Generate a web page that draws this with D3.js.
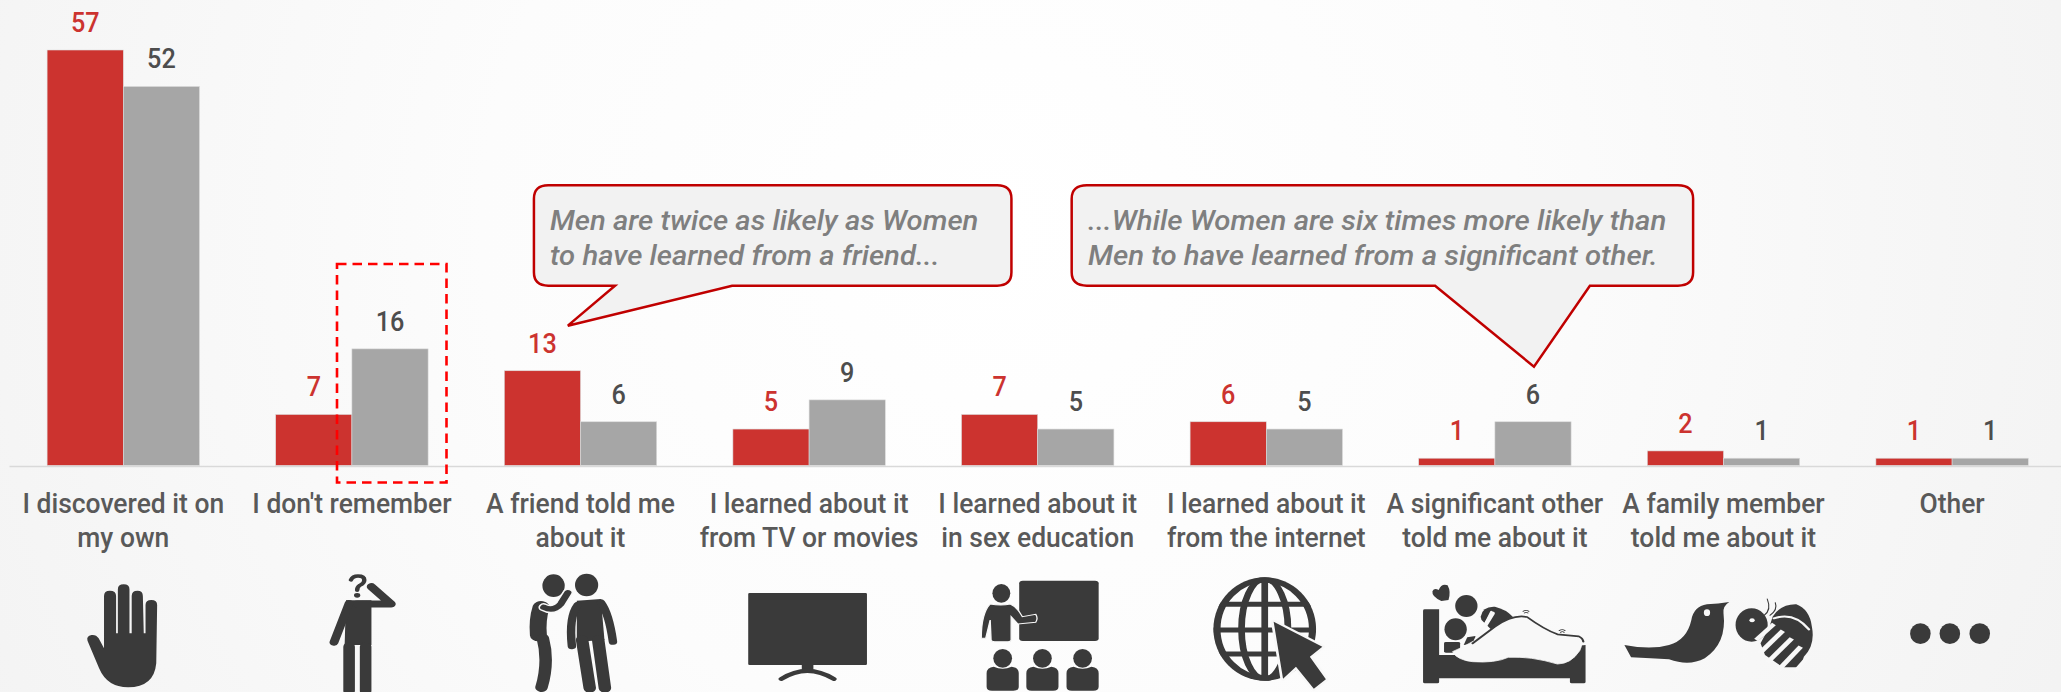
<!DOCTYPE html>
<html><head><meta charset="utf-8">
<style>html,body{margin:0;padding:0;background:#fff;overflow:hidden}svg{display:block}</style>
<script src="https://cdn.jsdelivr.net/npm/d3@7/dist/d3.min.js"></script>
</head><body><svg id="c" width="2061" height="692"></svg>
<script>
const categories = ["I discovered it on|my own","I don't remember","A friend told me|about it","I learned about it|from TV or movies","I learned about it|in sex education","I learned about it|from the internet","A significant other|told me about it","A family member|told me about it","Other"];
const men   = [57,7,13,5,7,6,1,2,1];
const women = [52,16,6,9,5,5,6,1,1];
const calloutA = ["Men are twice as likely as Women","to have learned from a friend..."];
const calloutB = ["...While Women are six times more likely than","Men to have learned from a significant other."];

const FONT = "Roboto, sans-serif", DARK = "#3a3a3a", BG = "#f8f8f8";
const svg = d3.select("#c");
const defs = svg.append("defs");
const grad = defs.append("radialGradient").attr("id","bg").attr("gradientUnits","userSpaceOnUse")
  .attr("cx",1000).attr("cy",230).attr("r",1150);
[[0,"#ffffff"],[0.45,"#fcfcfc"],[1,"#f3f3f3"]].forEach(s=>grad.append("stop").attr("offset",s[0]).attr("stop-color",s[1]));
svg.append("rect").attr("width",2061).attr("height",692).attr("fill","url(#bg)");

const x = d3.scaleBand().domain(categories).range([9,2066.4]).paddingInner(1/3).paddingOuter(1/6);
const y = d3.scaleLinear().domain([0,57]).range([465.5,50]);
const series = [{key:"Men",values:men,fill:"#cc332f",text:"#cc332f"},{key:"Women",values:women,fill:"#a6a6a6",text:"#4d4d4d"}];
const x1 = d3.scaleBand().domain(series.map(s=>s.key)).range([0,x.bandwidth()]);

// bars
const gBars = svg.append("g");
series.forEach(s=>{
  gBars.selectAll(null).data(categories).join("rect")
    .attr("x",d=>x(d)+x1(s.key)).attr("width",x1.bandwidth())
    .attr("y",(d,i)=>y(s.values[i])).attr("height",(d,i)=>y(0)-y(s.values[i]))
    .attr("fill",s.fill).attr("stroke","#dcdcdc").attr("stroke-width",0.6);
});
// axis
const ax = svg.append("g").attr("transform",`translate(0,${y(0)+0.5})`).call(d3.axisBottom(x).tickSize(0).tickFormat(""));
ax.select(".domain").attr("stroke","#d9d9d9").attr("stroke-width",1.6);

function narrowText(sel,px,py,str,size,fill,anchor,sx,style,weight){
  return sel.append("text").attr("transform",`translate(${px},${py}) scale(${sx},1)`)
    .attr("text-anchor",anchor).attr("font-family",FONT).attr("font-size",size)
    .attr("fill",fill).attr("font-style",style||"normal").attr("font-weight",weight||400).text(str);
}
// value labels
const gVals = svg.append("g");
series.forEach(s=>{
  categories.forEach((c,i)=>{
    narrowText(gVals,x(c)+x1(s.key)+x1.bandwidth()/2,y(s.values[i])-18,String(s.values[i]),28,s.text,"middle",0.9,"normal",500);
  });
});
// category labels
const gCats = svg.append("g");
categories.forEach(c=>{
  c.split("|").forEach((line,j)=>{
    narrowText(gCats,x(c)+x.bandwidth()/2,513+j*34.2,line,27,"#595959","middle",0.98,"normal",500);
  });
});
// highlight
svg.append("rect").attr("x",337).attr("y",264).attr("width",109.5).attr("height",218.5)
  .attr("fill","none").attr("stroke","#ff0000").attr("stroke-width",2.6).attr("stroke-dasharray","9.5,6");

// callouts: paths in crop coordinates (crop is stretched sx horizontally, 3x vertically)
function callout(ox,oy,sx,d){
  svg.append("g").attr("transform",`translate(${ox},${oy}) scale(${1/sx},${1/3})`).append("path").attr("d",d)
   .attr("fill","#f2f2f2").attr("stroke","#c00000").attr("stroke-width",2.5).attr("vector-effect","non-scaling-stroke").attr("stroke-linejoin","miter");
}
callout(500,170,2.8,"M135 46 H1392 Q1432 46 1432 86 V307 Q1432 347 1392 347 H650 L190 467 L322 347 H135 Q95 347 95 307 V86 Q95 46 135 46 Z");
callout(1050,170,2.306,"M85 46 H1448 Q1483 46 1483 86 V307 Q1483 347 1448 347 H1245 L1116 590 L888 347 H85 Q50 347 50 307 V86 Q50 46 85 46 Z");
const gNote = svg.append("g");
calloutA.forEach((t,i)=>narrowText(gNote,550,230+i*35,t,28,"#7f7f7f","start",1.045,"italic",500));
calloutB.forEach((t,i)=>narrowText(gNote,1088,230+i*35,t,28,"#7f7f7f","start",1.05,"italic",500));

// icons, in crop coordinates (2.24x horizontally, 3x vertically)
function icon(ox){ return svg.append("g").attr("transform",`translate(${ox},470) scale(${1/2.24},${1/3})`).attr("fill",DARK); }
function stroke(g,d,w,col){ return g.append("path").attr("d",d).attr("fill","none").attr("stroke",col||DARK).attr("stroke-width",w).attr("stroke-linecap","round").attr("stroke-linejoin","round"); }
function ell(g,cx,cy,rx,ry,col){ return g.append("ellipse").attr("cx",cx).attr("cy",cy).attr("rx",rx).attr("ry",ry).attr("fill",col||DARK); }

// hand
let g = icon(0);
g.append("path").attr("d","M196 512 Q193 498 205 495 Q215 493 221 505 L233 535 L233 378 Q233 362 246 362 Q260 362 260 378 L260 490 L264 490 L264 358 Q264 343 277 343 Q290 343 290 358 L290 490 L295 490 L295 378 Q295 362 308 362 Q320 362 320 378 L322 490 L326 490 L326 405 Q326 390 339 390 Q352 390 352 405 L350 580 Q345 652 287 652 Q240 652 222 595 Z");
// thinking person
g = icon(0);
stroke(g,"M786 330 Q790 318 802 318 Q816 318 816 330 Q816 340 806 346 Q800 351 800 361",10);
ell(g,800,376,7,7);
g.append("path").attr("d","M775 391 L832 391 L832 525 L772 525 Z");
stroke(g,"M832 350 L876 402 L800 402",21);
stroke(g,"M782 400 L748 517",20);
stroke(g,"M782 530 L782 662",26);
stroke(g,"M819 530 L819 662",26);
// friends
g = icon(0);
ell(g,1240,347,25,34); ell(g,1314,345,26,34);
stroke(g,"M1212 412 Q1203 450 1206 495",38);
stroke(g,"M1216 505 Q1230 575 1213 652",28);
stroke(g,"M1218 412 Q1240 428 1258 402 L1272 368",24,BG);
stroke(g,"M1218 412 Q1240 426 1256 402 L1272 368",16);
g.append("path").attr("d","M1292 392 L1346 387 L1354 510 L1292 515 Z");
stroke(g,"M1294 405 Q1274 440 1281 528",19);
stroke(g,"M1346 398 Q1364 430 1373 515",19);
stroke(g,"M1304 510 L1321 654",28);
stroke(g,"M1340 510 L1355 654",28);
// TV
g = icon(700);
g.append("rect").attr("x",108).attr("y",369).attr("width",266).attr("height",216).attr("rx",3);
g.append("rect").attr("x",228).attr("y",585).attr("width",26).attr("height",16);
stroke(g,"M182 627 Q240 578 300 627",12);
// teacher
g = icon(700);
g.append("rect").attr("x",715).attr("y",332).attr("width",178).attr("height",181).attr("rx",8);
ell(g,675,370,20,28);
g.append("path").attr("d","M650 402 Q675 408 695 402 Q710 410 722 440 L752 433 Q758 445 752 457 L712 462 L697 440 L697 510 Q697 515 690 515 L660 515 Q652 515 652 510 L650 450 L640 505 L630 505 Q630 430 650 402 Z").attr("stroke",BG).attr("stroke-width",3);
[678,767,857].forEach(cx=>{
  ell(g,cx,565,21,28);
  g.append("path").attr("d",`M${cx-36} 610 Q${cx-36} 592 ${cx-20} 590 Q${cx} 602 ${cx+20} 590 Q${cx+36} 592 ${cx+36} 610 L${cx+36} 650 Q${cx+36} 662 ${cx+24} 662 L${cx-24} 662 Q${cx-36} 662 ${cx-36} 650 Z`);
});
// globe + cursor
g = icon(700);
defs.append("clipPath").attr("id","gl").append("ellipse").attr("cx",1265).attr("cy",477).attr("rx",115).attr("ry",155);
const glob = g.append("g").attr("fill","none").attr("stroke",DARK).attr("clip-path","url(#gl)");
glob.append("ellipse").attr("cx",1265).attr("cy",477).attr("rx",108).attr("ry",148).attr("stroke-width",18);
glob.append("ellipse").attr("cx",1265).attr("cy",477).attr("rx",52).attr("ry",150).attr("stroke-width",15);
[["M1265 325 V630",15],["M1150 403 H1380",15],["M1150 480 H1380",15],["M1150 552 H1380",15]].forEach(l=>glob.append("path").attr("d",l[0]).attr("stroke-width",l[1]));
g.append("path").attr("d","M1285 455 L1394 530 L1366 560 L1402 628 L1375 656 L1335 590 L1306 626 Z").attr("stroke",BG).attr("stroke-width",12).attr("paint-order","stroke").attr("stroke-linejoin","round");
// bed
g = icon(1361);
g.append("path").attr("d","M139 422 Q139 418 143 418 L175 418 L175 555 L300 555 L503 525 L503 636 Q503 640 499 640 L472 640 Q468 640 468 636 L468 625 L175 625 L175 636 Q175 640 171 640 L143 640 Q139 640 139 636 Z");
ell(g,212,478,25,33); ell(g,236,408,25,33);
g.append("rect").attr("x",186).attr("y",516).attr("width",36).attr("height",32).attr("rx",4);
g.append("path").attr("d","M230 525 L238 502 L256 498 L260 520 Z");
g.append("path").attr("d","M180 393 Q158 380 160 364 Q164 352 174 360 Q180 340 194 346 Q202 365 196 390 Z");
g.append("path").attr("d","M268 440 Q272 408 300 410 Q325 418 340 440 L300 490 L270 450 Z");
stroke(g,"M258 510 L295 430",10,BG);
stroke(g,"M272 478 L292 425",5,BG);
g.append("path").attr("d","M205 545 Q250 520 300 470 Q340 432 372 445 Q410 482 440 497 L488 503 Q500 515 490 542 Q470 582 440 582 Q380 558 330 562 Q300 580 250 575 Q215 570 205 545 Z").attr("fill",BG).attr("stroke",BG).attr("stroke-width",2);
stroke(g,"M250 520 Q280 490 300 470 Q340 432 372 441 Q410 478 440 493 L488 499 Q497 505 498 515",5);
stroke(g,"M363 424 Q370 418 376 424 M366 429 Q370 425 374 429",2.5);
stroke(g,"M444 482 Q451 476 457 482 M447 487 Q451 483 455 487",2.5);
// bird and bee
g = icon(1361);
g.append("path").attr("d","M590 525 Q650 540 690 525 Q730 510 740 450 Q745 410 775 403 Q800 402 825 396 Q810 408 812 430 Q820 520 770 565 Q735 590 690 568 Q650 565 605 562 Z");
ell(g,775,428,7,10,BG);
ell(g,875,465,36,50); ell(g,876,451,6,6,BG);
stroke(g,"M903 436 Q920 420 910 387 M916 436 Q934 420 928 398",2.5);
g.append("path").attr("d","M922 440 Q940 402 975 403 Q1005 418 1010 470 Q1018 525 992 560 L985 592 L945 592 L905 555 L895 520 L915 470 Z");
stroke(g,"M925 445 Q970 425 1003 478",6,BG);
[["M885 510 L925 462",11],["M893 550 L945 482",12],["M910 578 L965 505",12],["M935 600 L985 530",12],["M972 605 L1003 558",10]].forEach(s=>g.append("path").attr("d",s[0]).attr("stroke",BG).attr("stroke-width",s[1]));
// dots
g = icon(1361);
[1253,1319,1386].forEach(cx=>ell(g,cx,491,23,31));
</script></body></html>
